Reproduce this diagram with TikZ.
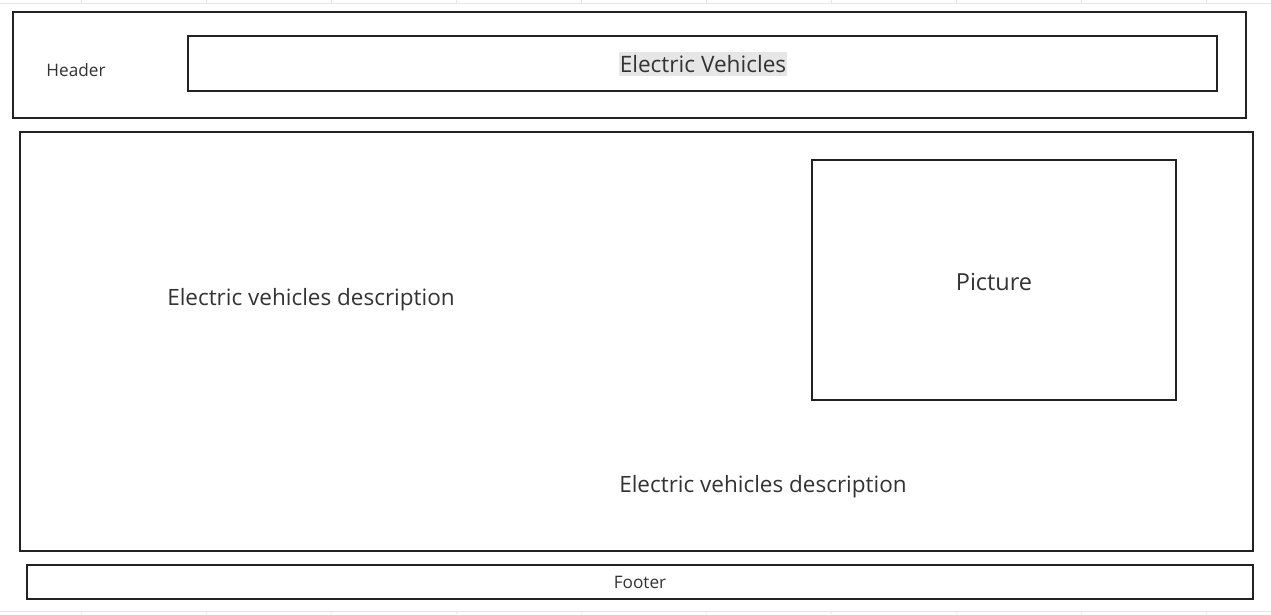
\documentclass[tikz,border=0pt]{standalone}
\usepackage{fontspec}
\setmainfont{Open Sans}
\definecolor{linec}{HTML}{222222}
\definecolor{textc}{HTML}{333333}
\definecolor{gridc}{HTML}{E6E6E6}
\definecolor{hl}{HTML}{E6E6E6}
\begin{document}
\begin{tikzpicture}[x=1pt,y=-1pt,
  box/.style={draw=linec,line width=2.2pt},
  lbl/.style={text=textc,inner sep=0pt,anchor=center},
]
\useasboundingbox (0,0) rectangle (1271,614);
\fill[white] (0,0) rectangle (1271,614);
% faint background grid
\draw[gridc,line width=1pt] (0,3) -- (1271,3);
\draw[gridc,line width=1pt] (0,611) -- (1271,611);
\foreach \x in {81,206,331,456,581,706,831,956,1081,1206}{
  \draw[gridc,line width=1pt] (\x,0) -- (\x,3);
  \draw[gridc,line width=1pt] (\x,611) -- (\x,614);
}
% boxes
\draw[box] (13,12) rectangle (1246,118);
\draw[box] (188,36) rectangle (1217,91);
\draw[box] (20,132) rectangle (1253,551);
\draw[box] (812,160) rectangle (1176,400);
\draw[box] (27,565) rectangle (1253,599);
% labels
\node[lbl,font=\fontsize{17.2}{20}\selectfont] (header) at (76,70) {Header};
\node[lbl,fill=hl,inner xsep=1pt,inner ysep=3.5pt,font=\fontsize{22.6}{26}\selectfont] (title) at (703,64) {Electric Vehicles};
\node[lbl,font=\fontsize{22.5}{26}\selectfont] (desc1) at (311,299.5) {Electric vehicles description};
\node[lbl,font=\fontsize{22.5}{26}\selectfont] (desc2) at (763,486.5) {Electric vehicles description};
\node[lbl,font=\fontsize{23.5}{27}\selectfont] (pic) at (994,281.5) {Picture};
\node[lbl,font=\fontsize{17.2}{20}\selectfont] (footer) at (640,582.5) {Footer};
\end{tikzpicture}
\end{document}
